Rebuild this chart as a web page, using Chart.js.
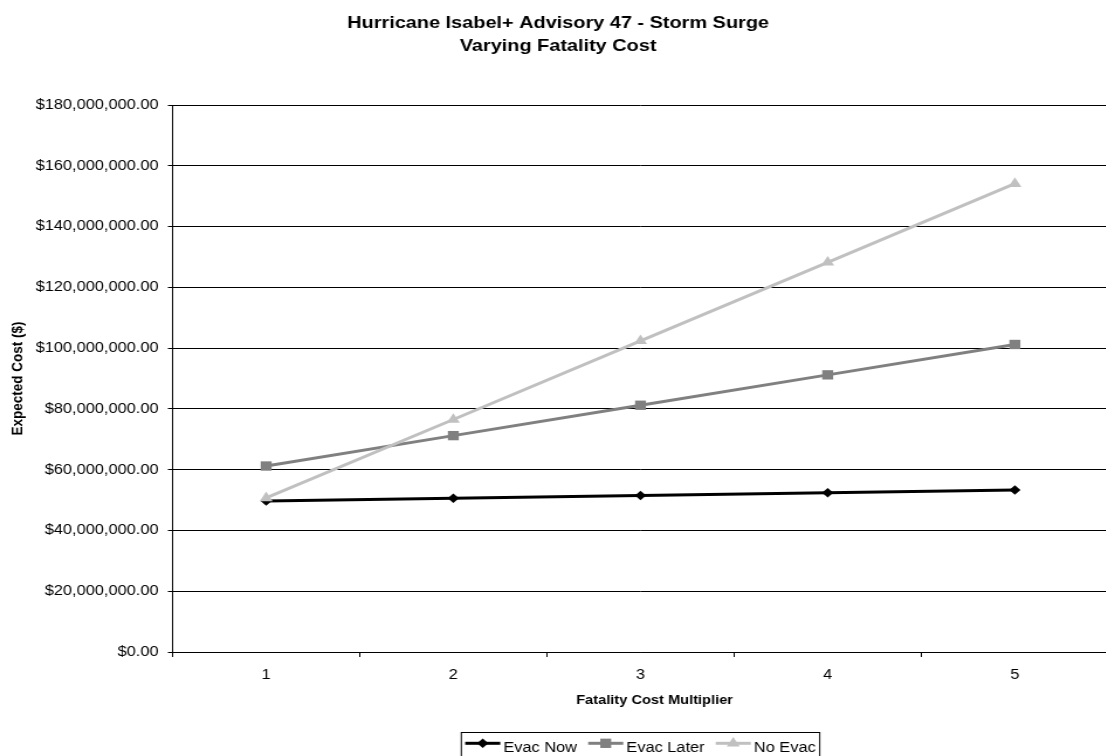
<!DOCTYPE html>
<html>
<head>
<meta charset="utf-8">
<script src="https://cdn.jsdelivr.net/npm/chart.js@4.4.0/dist/chart.umd.min.js"></script>
<style>
  html, body { margin: 0; padding: 0; background: #fff; overflow: hidden; width: 1106px; height: 756px; }
  /* the chart is laid out at a narrower width and widened horizontally */
  #wrap { position: absolute; left: 0; top: 0; width: 954px; height: 756px; transform: scaleX(1.17); transform-origin: 0 0; }
</style>
</head>
<body>
<div id="wrap"><canvas id="chart"></canvas></div>
<script>
// ---- data ----
const multipliers = ['1', '2', '3', '4', '5'];
const evacNow   = [49.7e6, 50.6e6, 51.5e6, 52.4e6, 53.3e6];
const evacLater = [61.2e6, 71.2e6, 81.2e6, 91.2e6, 101.2e6];
const noEvac    = [50.7e6, 76.5e6, 102.4e6, 128.2e6, 154.1e6];
const seriesNames = ['Evac Now', 'Evac Later', 'No Evac'];
const titleLines = ['Hurricane Isabel+ Advisory 47 - Storm Surge', 'Varying Fatality Cost'];
const xTitle = 'Fatality Cost Multiplier';
const yTitle = 'Expected Cost ($)';
const yMin = 0, yMax = 180e6, yStep = 20e6;

const FONT = '"Liberation Sans", Arial, Helvetica, sans-serif';

function money(v) {
  return '$' + Number(v).toLocaleString('en-US', { minimumFractionDigits: 2, maximumFractionDigits: 2 });
}

// titles, axis titles and the boxed legend
const frameText = {
  id: 'frameText',
  afterDraw(chart) {
    const ctx = chart.ctx;
    const a = chart.chartArea;
    ctx.save();
    ctx.fillStyle = '#000';
    ctx.textAlign = 'center';
    ctx.textBaseline = 'alphabetic';

    ctx.font = 'bold 17px ' + FONT;
    ctx.fillText(titleLines[0], chart.width / 2, 27.5);
    ctx.fillText(titleLines[1], chart.width / 2, 50.5);

    ctx.font = 'bold 12.5px ' + FONT;
    ctx.fillText(xTitle, (a.left + a.right) / 2 + 12, 704);

    ctx.save();
    ctx.font = 'bold 13.5px ' + FONT;
    ctx.translate(19, (a.top + a.bottom) / 2);
    ctx.rotate(-Math.PI / 2);
    ctx.fillText(yTitle, 0, 0);
    ctx.restore();

    // legend
    ctx.font = '14px ' + FONT;
    const sample = 30, gapText = 2.6, gapItem = 9.5, padL = 3.3, padR = 3.4;
    const widths = seriesNames.map(n => ctx.measureText(n).width);
    let total = padL + padR;
    widths.forEach((w, i) => { total += sample + gapText + w + (i < widths.length - 1 ? gapItem : 0); });
    const cx = (a.left + a.right) / 2;
    const left = cx - total / 2;
    const top = 732.5;
    ctx.strokeStyle = '#000';
    ctx.lineWidth = 1;
    ctx.strokeRect(left, top, total, 26);

    let x = left + padL;
    const lineY = 743.3;
    chart.data.datasets.forEach((ds, i) => {
      ctx.strokeStyle = ds.borderColor;
      ctx.fillStyle = ds.borderColor;
      ctx.lineWidth = 3;
      ctx.beginPath();
      ctx.moveTo(x, lineY);
      ctx.lineTo(x + sample, lineY);
      ctx.stroke();
      Chart.helpers.drawPoint(ctx, {
        pointStyle: ds.pointStyle, radius: ds.pointRadius, rotation: 0, borderWidth: 0
      }, x + sample / 2, lineY);
      ctx.fillStyle = '#000';
      ctx.textAlign = 'left';
      ctx.fillText(seriesNames[i], x + sample + gapText, 751.5);
      x += sample + gapText + widths[i] + gapItem;
    });
    ctx.restore();
  }
};

new Chart(document.getElementById('chart'), {
  type: 'line',
  data: {
    labels: multipliers,
    datasets: [
      { label: seriesNames[0], data: evacNow, borderColor: '#000000', backgroundColor: '#000000',
        borderWidth: 3, pointStyle: 'rectRot', pointRadius: 4.8, pointBorderWidth: 0, order: 2 },
      { label: seriesNames[1], data: evacLater, borderColor: '#808080', backgroundColor: '#808080',
        borderWidth: 3, pointStyle: 'rect', pointRadius: 6.6, pointBorderWidth: 0, order: 1 },
      { label: seriesNames[2], data: noEvac, borderColor: '#c0c0c0', backgroundColor: '#c0c0c0',
        borderWidth: 3, pointStyle: 'triangle', pointRadius: 6.4, pointBorderWidth: 0, order: 0 }
    ]
  },
  options: {
    responsive: true,
    maintainAspectRatio: false,
    animation: false,
    devicePixelRatio: 1,
    layout: { padding: { top: 105, right: 2, bottom: 0, left: 0 } },
    plugins: { legend: { display: false }, title: { display: false }, tooltip: { enabled: false } },
    elements: { line: { tension: 0 } },
    scales: {
      x: {
        offset: true,
        grid: { display: true, drawOnChartArea: false, offset: true, color: '#000', tickLength: 5, tickWidth: 1 },
        border: { display: true, color: '#000', width: 1 },
        ticks: { color: '#000', font: { family: FONT, size: 14 }, padding: 10, maxRotation: 0 },
        afterFit(scale) { scale.height = 104; }
      },
      y: {
        min: yMin, max: yMax,
        grid: { color: '#000', tickLength: 4, lineWidth: 1 },
        border: { display: true, color: '#000', width: 1 },
        ticks: { stepSize: yStep, color: '#000', font: { family: FONT, size: 14 }, padding: 8, callback: v => money(v) },
        afterFit(scale) { scale.width = 147.5; }
      }
    }
  },
  plugins: [frameText]
});
</script>
</body>
</html>
